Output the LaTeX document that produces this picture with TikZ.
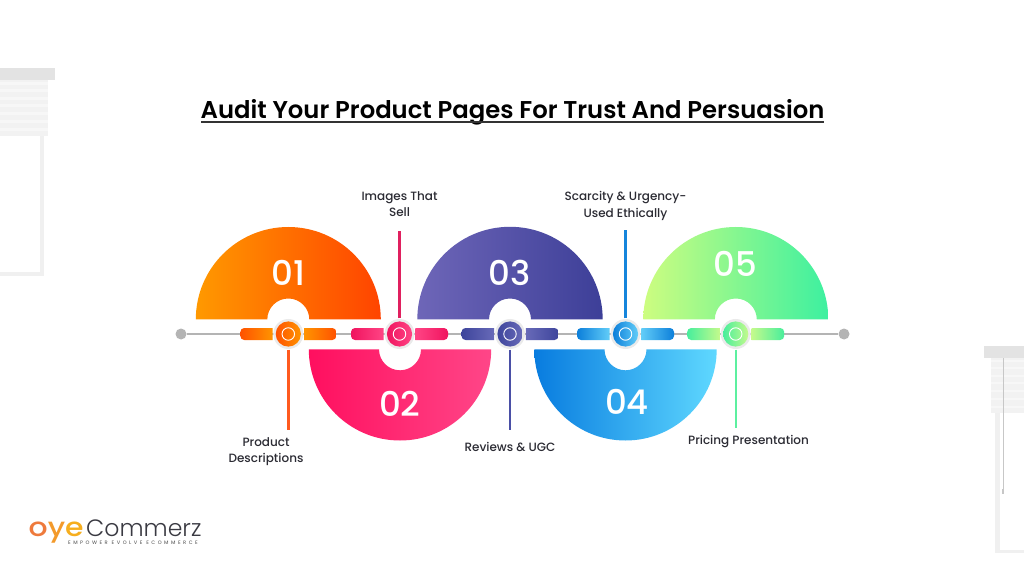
\documentclass[tikz,border=0pt]{standalone}
\usepackage{fontspec}
\setmainfont{Poppins Medium}
\newfontfamily\titlefont{Poppins SemiBold}
\newfontfamily\logofont{Poppins Medium}[FakeStretch=1.15]
\newfontfamily\lightfont{Poppins Light}
\newfontfamily\numfont{Poppins Medium}
\usetikzlibrary{calc}
\definecolor{greyline}{HTML}{B4B4B4}
\definecolor{halo}{HTML}{EAEAEA}
\definecolor{barcol}{HTML}{E3E3E3}
\definecolor{blindcol}{HTML}{F2F2F2}
\definecolor{framecol}{HTML}{F0F0F0}
\definecolor{inkcol}{HTML}{2B2B33}
\newcommand{\hexc}[1]{\definecolor{#1}{HTML}{#1}}
\hexc{FF9900}\hexc{FF4400}\hexc{FF0F5F}\hexc{FF4688}\hexc{6E66B8}\hexc{3D3F98}\hexc{087CDF}\hexc{5FD8FF}\hexc{CDFD80}\hexc{3DF0A0}
\hexc{FF5200}\hexc{FF9400}\hexc{F0145F}\hexc{FF4585}\hexc{3E459C}\hexc{686AB8}\hexc{0C7FDA}\hexc{62CDF8}\hexc{48EE9C}\hexc{C4FA8C}
\hexc{FF5A1F}\hexc{E0205F}\hexc{4A4FA6}\hexc{1585DC}\hexc{5CF0A0}\hexc{EE7A3C}\hexc{F39A2B}\hexc{F6AE1E}\hexc{3A3A42}\hexc{6A6A6A}
\tikzset{
  x=1pt,y=1pt,
  num/.style={text=white,font=\fontsize{34}{34}\selectfont\numfont,inner sep=0pt},
  lbl/.style={text=inkcol,font=\fontsize{12}{16.2}\selectfont,align=center,inner sep=0pt},
  haloc/.style={circle,fill=halo,minimum size=30pt,inner sep=0pt},
  dotc/.style={circle,fill=greyline,minimum size=11pt,inner sep=0pt},
  conn/.style={line width=2.4pt},
}
% half disc up: cx, R, r, colours
\newcommand{\halfup}[5]{\shade[left color=#4,right color=#5] (#1-#2,256.5) arc[start angle=180,end angle=0,radius=#2] -- (#1+#3,256.5) arc[start angle=0,end angle=180,radius=#3] -- cycle;}
\newcommand{\halfdown}[5]{\shade[left color=#4,right color=#5] (#1-#2,226.7) arc[start angle=180,end angle=360,radius=#2] -- (#1+#3,226.7) arc[start angle=360,end angle=180,radius=#3] -- cycle;}
% hub: name, cx, pill half width, pill end colour, pill middle colour
\newcommand{\hub}[5]{%
  \shade[left color=#4,right color=#5] (#2-15.8,248) [rounded corners=4pt] -- (#2-#3,248) -- (#2-#3,236) [sharp corners] -- (#2-15.8,236) -- cycle;
  \shade[left color=#5,right color=#4] (#2+15.8,248) [rounded corners=4pt] -- (#2+#3,248) -- (#2+#3,236) [sharp corners] -- (#2+15.8,236) -- cycle;
  \node[haloc] at (#2,242) {};
  \shade[left color=#4,right color=#5] (#2,242) circle[radius=12.6];
  \node[circle,draw=white,line width=0.9pt,minimum size=12.5pt,inner sep=0pt] (#1) at (#2,242) {};
}
\begin{document}
\begin{tikzpicture}
\useasboundingbox (0,0) rectangle (1024,576);
\fill[white] (0,0) rectangle (1024,576);
% left window
\fill[framecol] (40,300) rectangle (44,440);
\fill[framecol] (0,300) rectangle (44,304);
\fill[blindcol] (0,440) rectangle (48,496);
\foreach \yy in {445,453,461,469,476,484,491}{\fill[white!35!blindcol] (0,\yy) rectangle (48,\yy+2.5);}
\fill[barcol] (0,496) rectangle (54.5,508);
% right window
\fill[framecol] (994.5,23) rectangle (999.5,163);
\fill[framecol] (994.5,23) rectangle (1024,26);
\fill[blindcol] (991,163) rectangle (1024,218);
\foreach \yy in {168,176,184,192,199,207,214}{\fill[white!35!blindcol] (991,\yy) rectangle (1024,\yy+2.5);}
\fill[barcol] (984,218) rectangle (1024,230);
\draw[line width=0.7pt,color=black!22] (1003,218) -- (1003,87);
\fill[black!22] (1001.6,82) rectangle (1004.4,87);
% title
\node[inner sep=0pt,anchor=base,font=\fontsize{24.3}{26}\selectfont\titlefont,text=black] (title) at (512.5,457.7) {Audit Your Product Pages For Trust And Persuasion};
\coordinate (ul) at (201,454);\coordinate (ur) at (824,454);
\draw[line width=2pt,black!80] (ul) -- (ur);
% half discs
\halfup{288.3}{92.5}{21}{FF9900}{FF4400}
\halfdown{400}{91.2}{21}{FF0F5F}{FF4688}
\halfup{510}{92.7}{21}{6E66B8}{3D3F98}
\halfdown{625.5}{91.2}{21}{087CDF}{5FD8FF}
\halfup{735.8}{92.5}{21}{CDFD80}{3DF0A0}
% grey line
\node[dotc] (ds) at (181,242) {};
\node[dotc] (de) at (844,242) {};
\draw[greyline,line width=1.8pt] (ds) -- (de);
% hubs
\hub{h1}{288.3}{48}{FF5200}{FF9400}
\hub{h2}{399.5}{48.5}{F0145F}{FF4585}
\hub{h3}{510}{48.5}{3E459C}{686AB8}
\hub{h4}{625.5}{48.5}{0C7FDA}{62CDF8}
\hub{h5}{735.7}{48.5}{48EE9C}{C4FA8C}
% connectors
\coordinate (e1) at (288.3,146);\coordinate (e2) at (399.5,344.5);\coordinate (e3) at (510,146);\coordinate (e4) at (625.5,346);\coordinate (e5) at (735.7,148);
\coordinate (s1) at (288.3,226.5);\coordinate (s2) at (399.5,257.5);\coordinate (s3) at (510,226.5);\coordinate (s4) at (625.5,257.5);\coordinate (s5) at (735.7,226.5);
\draw[conn,color=FF5A1F] (s1) -- (e1);
\draw[conn,color=E0205F] (s2) -- (e2);
\draw[conn,color=4A4FA6] (s3) -- (e3);
\draw[conn,color=1585DC] (s4) -- (e4);
\draw[conn,color=5CF0A0] (s5) -- (e5);
% numbers
\node[num] (n1) at (288.3,303) {01};
\node[num] (n2) at (399.7,172) {02};
\node[num] (n3) at (509.5,303) {03};
\node[num] (n4) at (627,174) {04};
\node[num] (n5) at (735.7,312) {05};
% labels
\node[lbl] (l1) at (266,124) {Product\\Descriptions};
\node[lbl] (l2) at (399.5,372) {Images That\\Sell};
\node[lbl] (l3) at (510,129) {Reviews \& UGC};
\node[lbl] (l4) at (625.5,370) {Scarcity \& Urgency-\\Used Ethically};
\node[lbl] (l5) at (748.5,134) {Pricing Presentation};
% logo
\node[inner sep=0pt,anchor=base west,font=\fontsize{26}{26}\selectfont\logofont] (oye) at (28.5,40) {\textcolor{EE7A3C}{o}\textcolor{F39A2B}{y}\textcolor{F6AE1E}{e}};
\node[inner sep=0pt,anchor=base west,font=\fontsize{23.6}{24}\selectfont\lightfont,text=3A3A42] (comm) at (86,40) {Commerz};
\node[inner sep=0pt,anchor=base west,font=\fontsize{5}{6}\selectfont\addfontfeatures{LetterSpace=50},text=6A6A6A] (tag) at (68,31.5) {EMPOWER EVOLVE ECOMMERCE};
\end{tikzpicture}
\end{document}
